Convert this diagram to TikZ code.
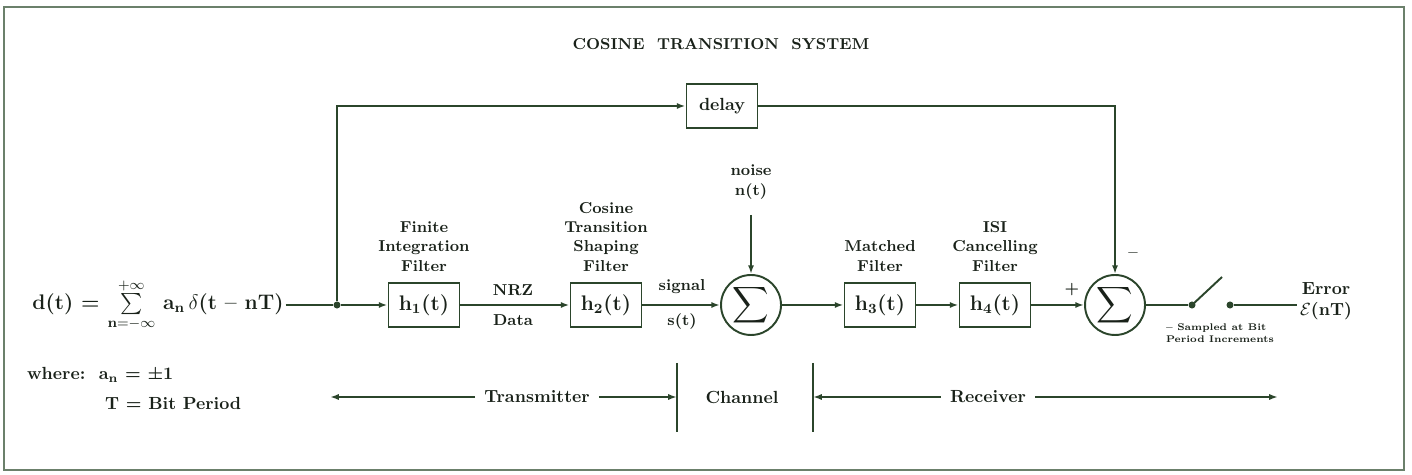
\documentclass[tikz,border=0pt]{standalone}
\usepackage{amsmath}
\usepackage{tikz}
\usetikzlibrary{arrows.meta, positioning, calc}
\usepackage{xcolor}
\definecolor{linegreen}{rgb}{0.17,0.27,0.17}
\definecolor{textdark}{rgb}{0.10,0.13,0.10}
\definecolor{framegray}{rgb}{0.42,0.50,0.42}

\begin{document}
\begin{tikzpicture}[
    x=0.02cm, y=-0.02cm,
    filt/.style={
        rectangle,
        draw=linegreen,
        line width=1.1pt,
        minimum width=1.42cm,
        minimum height=0.88cm,
        inner sep=0pt,
        font=\large\bfseries,
        text=textdark
    },
    sumnode/.style={
        circle,
        draw=linegreen,
        line width=1.1pt,
        minimum size=1.2cm,
        inner sep=0pt,
        text=textdark
    },
    lbl/.style={
        font=\small\bfseries,
        text=textdark,
        align=center,
        inner sep=1pt
    },
    wire/.style={
        line width=1.1pt,
        color=linegreen
    },
    arrow/.style={
        -{Latex[length=5pt, width=3.5pt]},
        line width=1.1pt,
        color=linegreen
    },
    dot/.style={
        circle,
        fill=linegreen,
        inner sep=0pt,
        minimum size=4pt
    }
]

\useasboundingbox (0,0) rectangle (1412,475);
\draw[framegray, line width=0.9pt] (4,7) rectangle (1404,470);

\node[lbl] (title) at (721,44) {COSINE\ \ TRANSITION\ \ SYSTEM};

% input signal
\node[lbl, font=\large\bfseries] (dt) at (158,305)
    {d(t) = $\sum\limits_{\mathbf{n}=-\infty}^{+\infty}$ a\textsubscript{n}\,$\delta$(t -- nT)};
\node[lbl, font=\bfseries, anchor=west] (where) at (25,375) {where:\ \ a\textsubscript{n} = ±1};
\node[lbl, font=\bfseries, anchor=west] (period) at (103,403) {T = Bit Period};

% main chain
\node[dot] (split) at (337,305) {};
\node[filt] (h1)    at (424,305) {h\textsubscript{1}(t)};
\node[filt] (h2)    at (606,305) {h\textsubscript{2}(t)};
\node[sumnode] (sum1) at (751,305) {\Large$\displaystyle\sum$};
\node[filt] (h3)    at (880,305) {h\textsubscript{3}(t)};
\node[filt] (h4)    at (995,305) {h\textsubscript{4}(t)};
\node[sumnode] (sum2) at (1115,305) {\Large$\displaystyle\sum$};
\node[filt, font=\normalsize\bfseries] (delay) at (722,106) {delay};

\node[lbl, above=5pt of h1] {Finite\\Integration\\Filter};
\node[lbl, above=5pt of h2] {Cosine\\Transition\\Shaping\\Filter};
\node[lbl, above=5pt of h3] {Matched\\Filter};
\node[lbl, above=5pt of h4] {ISI\\Cancelling\\Filter};
\node[lbl] (noise) at (751,182) {noise\\n(t)};
\coordinate (noisein) at (751,215);

\node[lbl] (nrz)    at (513,290) {NRZ};
\node[lbl] (data)   at (513,320) {Data};
\node[lbl] (signal) at (682,287) {signal};
\node[lbl] (st)     at (682,322) {s(t)};
\node[lbl] (plus)   at (1072,290) {+};
\node[lbl] (minus)  at (1133,255) {--};

\draw[wire]  (dt.east |- split) -- (split);
\draw[arrow] (split) -- (h1);
\draw[arrow] (h1) -- (h2);
\draw[arrow] (h2) -- (sum1);
\draw[arrow] (noisein) -- (sum1);
\draw[arrow] (sum1) -- (h3);
\draw[arrow] (h3) -- (h4);
\draw[arrow] (h4) -- (sum2);

% delayed reference
\coordinate (corner) at (1115,106);
\draw[arrow] (split) |- (delay);
\draw[arrow] (delay) -- (corner) -- (sum2);

% sampler
\node[dot] (swl) at (1192,305) {};
\node[dot] (swr) at (1230,305) {};
\coordinate (blade) at (1222,277);
\coordinate (errend) at (1297,305);
\draw[wire] (sum2) -- (swl);
\draw[wire] (swl.center) -- (blade);
\draw[wire] (swr) -- (errend);
\node[lbl, font=\bfseries, anchor=west] (error) at (1298,301) {Error\\$\mathcal{E}$(nT)};
\node[lbl, font=\fontsize{5.5}{6.5}\selectfont\bfseries, align=left] (sampled) at (1220,333)
    {-- Sampled at Bit\\Period Increments};

% sections
\node[lbl, font=\bfseries, inner sep=5pt] (tx)   at (537,397) {Transmitter};
\node[lbl, font=\bfseries] (chan) at (742,397) {Channel};
\node[lbl, font=\bfseries, inner sep=5pt] (rx)   at (988,397) {Receiver};
\coordinate (txend)  at (330,397);
\coordinate (rxend)  at (1278,397);
\coordinate (barl)   at (677,397);
\coordinate (barr)   at (813,397);
\draw[wire] (677,363) -- (677,432);
\draw[wire] (813,363) -- (813,432);
\draw[arrow] (tx) -- (txend);
\draw[arrow] (tx) -- (barl);
\draw[arrow] (rx) -- (barr);
\draw[arrow] (rx) -- (rxend);

\end{tikzpicture}
\end{document}
